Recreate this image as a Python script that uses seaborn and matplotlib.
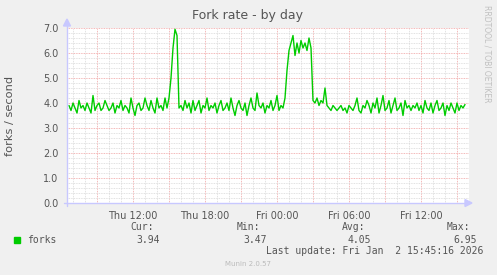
import numpy as np
import pandas as pd
import matplotlib
matplotlib.use("Agg")
import matplotlib.pyplot as plt
import matplotlib.dates as mdates
from matplotlib.ticker import MultipleLocator, FuncFormatter
from matplotlib.patches import Rectangle, Polygon
from matplotlib.lines import Line2D
import seaborn as sns

# ---- data (10-minute samples, starting Thu 2026-01-01 06:40) ----
start_time = "2026-01-01 06:40"
forks = [
    3.9, 3.7, 4.0, 3.8, 3.6, 4.1, 3.8, 3.9, 3.7, 4.0,
    3.8, 3.6, 4.3, 3.7, 3.9, 4.0, 3.7, 3.8, 4.1, 3.9,
    3.7, 3.8, 4.0, 3.6, 3.9, 3.8, 4.1, 3.7, 3.9, 3.8,
    3.6, 4.2, 3.8, 3.5, 3.9, 4.0, 3.7, 3.8, 4.2, 3.9,
    3.7, 4.1, 3.8, 3.6, 4.2, 3.8, 3.9, 3.7, 4.2, 3.8,
    4.2, 5.0, 6.2, 6.95, 6.7, 3.8,
    3.9, 3.7, 4.1, 3.8, 4.0, 3.6, 4.1, 3.7, 3.9, 4.1,
    3.6, 3.9, 3.8, 4.2, 3.7, 3.9, 3.8, 4.0, 3.6, 3.9,
    4.1, 3.7, 3.8, 4.0, 3.7, 4.2, 3.8, 3.5, 3.9, 4.1,
    3.8, 3.7, 4.0, 3.5, 3.9, 4.2, 3.8, 3.7, 4.4, 3.9,
    3.8, 4.0, 3.6, 3.9, 3.8, 4.1, 3.7, 3.9, 4.3, 3.7,
    3.9, 3.8,
    4.2, 5.3, 6.1, 6.4, 6.7, 5.9, 6.4, 6.0, 6.5, 6.2, 6.4, 6.1, 6.6, 6.2,
    4.1, 4.0, 4.2, 3.9, 4.1, 4.0, 4.6,
    3.9, 3.8, 3.7, 3.9, 3.8, 3.7, 3.8, 3.9, 3.7, 3.8,
    3.6, 3.9, 3.8, 3.7, 3.9, 4.2, 3.7, 3.6, 3.9, 3.8,
    4.1, 3.9, 3.6, 4.0, 3.8, 4.2, 3.6, 3.9, 4.3, 3.7,
    3.8, 4.1, 3.6, 3.9, 4.2, 3.7, 3.8, 4.0, 3.5, 4.1,
    3.8, 3.9, 3.7, 3.9, 3.8, 4.0, 3.7, 3.9, 3.6, 4.1,
    3.8, 3.7, 4.0, 3.6, 3.9, 4.1, 3.7, 3.8, 4.0, 3.5,
    3.9, 3.7, 4.0, 3.8, 3.6, 4.0, 3.7, 3.9, 3.8, 3.94,
]
times = pd.date_range(start_time, periods=len(forks), freq="10min")
df = pd.DataFrame({"time": times, "forks": forks})

x_start = pd.Timestamp("2026-01-01 06:30")
x_end = pd.Timestamp("2026-01-02 16:00")
y_max = 7.0

title = "Fork rate - by day"
ylabel = "forks / second"
series_name = "forks"
stat_labels = ["Cur:", "Min:", "Avg:", "Max:"]
stat_values = ["3.94", "3.47", "4.05", "6.95"]
last_update = "Last update: Fri Jan  2 15:45:16 2026"
footer = "Munin 2.0.57"
side_text = "RRDTOOL / TOBI OETIKER"

# ---- styling ----
sns.set_style("white")
plt.rcParams['font.family'] = ['DejaVu Sans']

W, H = 497, 275
fig = plt.figure(figsize=(W / 100, H / 100), dpi=100, facecolor="#F0F0F0")
ax = fig.add_axes([67 / W, 1 - 203 / H, (469 - 67) / W, (203 - 28) / H])
ax.set_facecolor("white")

sns.lineplot(data=df, x="time", y="forks", ax=ax, color="#00CC00", linewidth=1.0, zorder=5)

ax.set_xlim(x_start, x_end)
ax.set_ylim(0, y_max)

ax.yaxis.set_major_locator(MultipleLocator(1))
ax.yaxis.set_minor_locator(MultipleLocator(0.2))
ax.yaxis.set_major_formatter(FuncFormatter(lambda v, p: f"{v:.1f}"))

ax.xaxis.set_major_locator(mdates.HourLocator(byhour=range(0, 24, 3)))
ax.xaxis.set_minor_locator(mdates.HourLocator())


def xfmt(v, p):
    d = mdates.num2date(v)
    if d.hour % 6 == 0:
        return d.strftime("%a %H:%M")
    return ""


ax.xaxis.set_major_formatter(FuncFormatter(xfmt))

ax.grid(which="major", color="#F0A0A0", linestyle=(0, (1, 1)), linewidth=0.6)
ax.grid(which="minor", color="#D8D8D8", linestyle=(0, (1, 1)), linewidth=0.6)
ax.set_axisbelow(True)

for s in ax.spines.values():
    s.set_visible(False)

ax.tick_params(axis="both", which="major", length=2, width=0.6, color="#F0A0A0",
               labelsize=7, labelcolor="#555555", pad=4)
ax.tick_params(axis="both", which="minor", length=1.5, width=0.6, color="#D0D0D0")
ax.set_xlabel("")
ax.set_ylabel(ylabel, fontsize=8.2, color="#555555")
ax.yaxis.set_label_coords(-(67 - 15) / 402, 0.5)

# axis lines with small arrow heads (pixel coordinates -> figure fraction)
axis_col = "#C8C8FF"


def px(x, y):
    return (x / W, 1 - y / H)


fig.add_artist(Line2D([64 / W, 466 / W], [1 - 203 / H, 1 - 203 / H], color=axis_col,
                      lw=1.0, transform=fig.transFigure))
fig.add_artist(Line2D([67 / W, 67 / W], [1 - 206 / H, 1 - 25 / H], color=axis_col,
                      lw=1.0, transform=fig.transFigure))
fig.add_artist(Polygon([px(465, 199.5), px(472, 203), px(465, 206.5)], closed=True,
                       color=axis_col, transform=fig.transFigure))
fig.add_artist(Polygon([px(63.5, 26), px(67, 19), px(70.5, 26)], closed=True,
                       color=axis_col, transform=fig.transFigure))

# title
fig.text(248 / W, 1 - 15 / H, title, ha="center", va="center", fontsize=9, color="#555555")
# side text
fig.text(487 / W, 1 - 5 / H, side_text, ha="center", va="top", rotation=270,
         fontsize=5.5, color="#C0C0C0")

# legend
mono = "DejaVu Sans Mono"
leg_col = "#555555"
fig.add_artist(Rectangle((14 / W, 1 - 243 / H), 6 / W, 6 / H, color="#00CC00",
                         transform=fig.transFigure))
fig.text(27 / W, 1 - 240 / H, series_name, ha="left", va="center", family=mono,
         fontsize=7, color=leg_col)
label_right = [154, 260, 365, 470]
value_right = [160, 266.5, 371.5, 476.5]
for lab, val, lr, vr in zip(stat_labels, stat_values, label_right, value_right):
    fig.text(lr / W, 1 - 227.5 / H, lab, ha="right", va="center", family=mono,
             fontsize=7, color=leg_col)
    fig.text(vr / W, 1 - 240 / H, val, ha="right", va="center", family=mono,
             fontsize=7, color=leg_col)
fig.text(483 / W, 1 - 251.5 / H, last_update, ha="right", va="center", family=mono,
         fontsize=7, color=leg_col)
fig.text(248 / W, 1 - 263.5 / H, footer, ha="center", va="center", fontsize=5,
         color="#BBBBBB")

fig.savefig("out.png", dpi=100, facecolor=fig.get_facecolor())
